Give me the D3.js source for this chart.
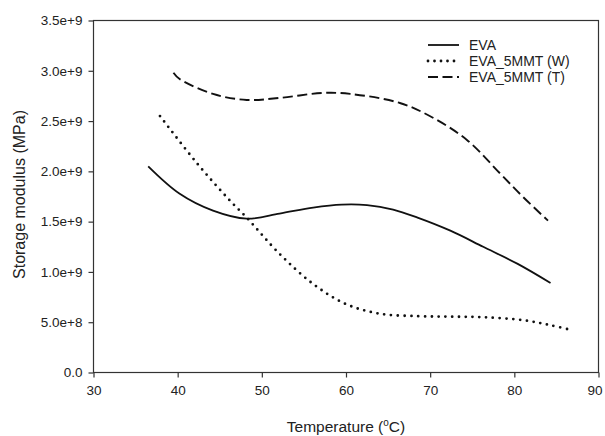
<!DOCTYPE html>
<html>
<head>
<meta charset="utf-8">
<script src="https://cdn.jsdelivr.net/npm/d3@7"></script>
<style>
  body { margin: 0; background: #fff; }
  svg { display: block; }
  text { font-family: "Liberation Sans", Arial, sans-serif; fill: #222; }
</style>
</head>
<body>
<svg id="chart" width="605" height="436"></svg>
<script>
// ---- data ----
const xTicks = [30, 40, 50, 60, 70, 80, 90];
const yTicks = [0, 5e8, 1e9, 1.5e9, 2e9, 2.5e9, 3e9, 3.5e9];
const yTickLabels = ["0.0", "5.0e+8", "1.0e+9", "1.5e+9", "2.0e+9", "2.5e+9", "3.0e+9", "3.5e+9"];

const seriesNames = ["EVA", "EVA_5MMT (W)", "EVA_5MMT (T)"];

const evaTemp = [36.5, 40.2, 44.2, 48.2, 52.1, 56.1, 59.5, 62.5, 65.6, 68.5, 72.4, 76.3, 80.4, 84.3];
const evaMod  = [2.05e9, 1.78e9, 1.61e9, 1.53e9, 1.58e9, 1.64e9, 1.67e9, 1.665e9, 1.62e9, 1.54e9, 1.41e9, 1.25e9, 1.08e9, 0.89e9];

const wTemp = [37.9, 42.3, 46.2, 48.2, 52.1, 56.1, 60.0, 64.0, 68.5, 72.4, 76.3, 81.1, 84.3, 86.9];
const wMod  = [2.55e9, 2.08e9, 1.71e9, 1.54e9, 1.18e9, 0.88e9, 0.68e9, 0.585e9, 0.56e9, 0.555e9, 0.55e9, 0.52e9, 0.47e9, 0.42e9];

const tTemp = [39.5, 40.2, 44.2, 48.2, 52.1, 57.3, 60.5, 66.4, 70.4, 74.4, 78.3, 81.1, 84.0];
const tMod  = [2.98e9, 2.92e9, 2.77e9, 2.71e9, 2.73e9, 2.78e9, 2.77e9, 2.68e9, 2.53e9, 2.31e9, 1.98e9, 1.74e9, 1.51e9];

// ---- layout ----
const mLeft = 93.5, mRight = 598.5, mTop = 20.5, mBottom = 372.5;
const svg = d3.select("#chart");

const x = d3.scaleLinear().domain([30, 90]).range([mLeft, mRight]);
const y = d3.scaleLinear().domain([0, 3.5e9]).range([mBottom, mTop]);

// frame
svg.append("rect")
  .attr("x", mLeft).attr("y", mTop)
  .attr("width", mRight - mLeft).attr("height", mBottom - mTop)
  .attr("fill", "none").attr("stroke", "#333").attr("stroke-width", 1.2);

// axes
const xAxis = d3.axisBottom(x).tickValues(xTicks).tickSize(5).tickPadding(8).tickFormat(d3.format("d"));
const gx = svg.append("g").attr("transform", `translate(0,${mBottom})`).call(xAxis);
const yAxis = d3.axisLeft(y).tickValues(yTicks).tickSize(5).tickPadding(6)
  .tickFormat((d, i) => yTickLabels[i]);
const gy = svg.append("g").attr("transform", `translate(${mLeft},0)`).call(yAxis);

[gx, gy].forEach(g => {
  g.select(".domain").remove();
  g.selectAll(".tick line").attr("stroke", "#333").attr("stroke-width", 1.2);
  g.selectAll(".tick text").attr("font-size", 13.5).attr("fill", "#222")
    .style("font-family", '"Liberation Sans", Arial, sans-serif');
});
// keep the last x label inside the window
gx.selectAll(".tick text").filter(d => d === 90).attr("dx", -4);

// axis titles
const xt = svg.append("text")
  .attr("x", (mLeft + mRight) / 2).attr("y", 432)
  .attr("text-anchor", "middle").attr("font-size", 15.5);
xt.append("tspan").text("Temperature (");
xt.append("tspan").attr("font-size", 10).attr("dy", -6).text("o");
xt.append("tspan").attr("dy", 6).text("C)");

svg.append("text")
  .attr("transform", `translate(25,${(mTop + mBottom) / 2 - 2}) rotate(-90)`)
  .attr("text-anchor", "middle").attr("font-size", 16)
  .text("Storage modulus (MPa)");

// lines
const styles = [
  { dash: null, width: 1.8, cap: "butt" },
  { dash: "0,6.8", width: 2.8, cap: "round" },
  { dash: "10,4.5", width: 1.9, cap: "butt" }
];
const data = [
  evaTemp.map((t, i) => [t, evaMod[i]]),
  wTemp.map((t, i) => [t, wMod[i]]),
  tTemp.map((t, i) => [t, tMod[i]])
];
const line = d3.line().x(d => x(d[0])).y(d => y(d[1])).curve(d3.curveCatmullRom.alpha(0.5));

data.forEach((pts, i) => {
  const p = svg.append("path").datum(pts)
    .attr("d", line).attr("fill", "none").attr("stroke", "#111")
    .attr("stroke-width", styles[i].width).attr("stroke-linecap", styles[i].cap);
  if (styles[i].dash) p.attr("stroke-dasharray", styles[i].dash);
});

// legend
const lg = svg.append("g");
seriesNames.forEach((name, i) => {
  const yy = 45 + i * 16;
  const l = lg.append("line").attr("x1", 428).attr("x2", 459).attr("y1", yy).attr("y2", yy)
    .attr("stroke", "#111").attr("stroke-width", styles[i].width).attr("stroke-linecap", styles[i].cap);
  if (styles[i].dash) l.attr("stroke-dasharray", i === 1 ? "0,6.5" : "10,4.5");
  lg.append("text").attr("x", 469).attr("y", yy + 5).attr("font-size", 14).text(name);
});
</script>
</body>
</html>
